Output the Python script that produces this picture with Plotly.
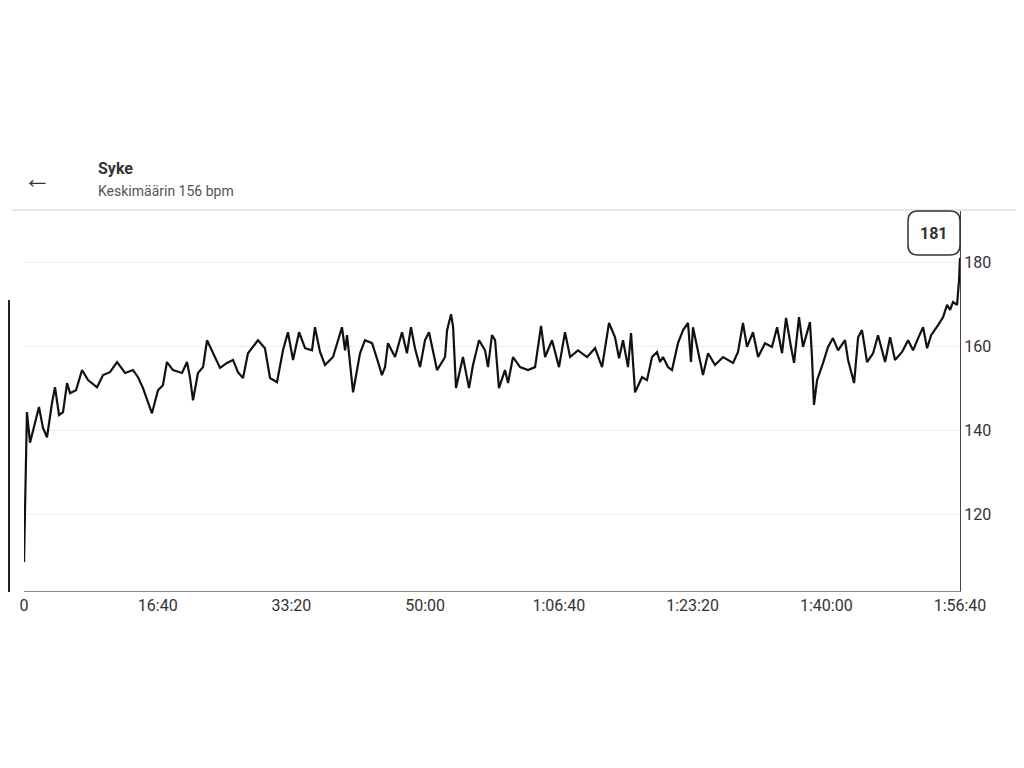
import plotly.graph_objects as go

# heart rate samples (seconds, bpm)
time_s = [0, 22, 45, 82, 112, 142, 172, 209, 232, 262, 292, 322, 344, 389, 434, 479, 546, 591, 643, 696,
          756, 815, 853, 890, 957, 1002, 1039, 1069, 1114, 1182, 1219, 1241, 1264, 1301, 1339, 1369, 1414,
          1466, 1518, 1563, 1600, 1638, 1675, 1750, 1802, 1840, 1892, 1937, 1974, 2012, 2057, 2102, 2154,
          2176, 2214, 2251, 2311, 2378, 2401, 2416, 2461, 2513, 2550, 2603, 2648, 2677, 2700, 2722, 2775,
          2827, 2864, 2894, 2924, 2962, 2999, 3029, 3089, 3149, 3164, 3194, 3209, 3231, 3283, 3328, 3358,
          3403, 3448, 3470, 3500, 3523, 3552, 3597, 3620, 3657, 3710, 3769, 3822, 3867, 3897, 3949, 4001,
          4046, 4084, 4143, 4211, 4271, 4323, 4375, 4420, 4450, 4480, 4517, 4540, 4570, 4622, 4659, 4697,
          4734, 4757, 4779, 4816, 4846, 4891, 4929, 4966, 4988, 5003, 5041, 5078, 5116, 5168, 5228, 5303,
          5340, 5377, 5407, 5452, 5490, 5542, 5594, 5632, 5669, 5699, 5736, 5759, 5796, 5826, 5878, 5893,
          5908, 5931, 5976, 6013, 6050, 6088, 6140, 6163, 6208, 6238, 6267, 6305, 6350, 6387, 6440, 6477,
          6514, 6567, 6612, 6649, 6687, 6724, 6754, 6784, 6836, 6874, 6903, 6926, 6948, 6978, 6993, 7000]
heart_rate = [108.6, 144.3, 137, 141.7, 145.5, 140.5, 138.3, 146.4, 150.2, 143.6, 144.3, 151.2, 148.8, 149.5,
              154.3, 151.9, 150.2, 153.1, 153.8, 156.2, 153.6, 154.3, 152.6, 150, 144, 149.5, 150.7, 156.2,
              154.3, 153.6, 156.2, 152.6, 147.1, 153.6, 155, 161.4, 158.3, 154.8, 156, 156.7, 153.8, 152.4,
              158.3, 161.4, 159.5, 152.4, 151.4, 159, 163.3, 156.7, 163.3, 159.5, 159, 164.5, 158.6, 155.5,
              157.4, 164.5, 159, 162.6, 149, 158.3, 161.4, 160.7, 156.2, 153.1, 155, 160.7, 157.4, 163.3,
              158.3, 164.5, 159.5, 155, 161.4, 163.3, 154.3, 157.4, 163.8, 167.6, 164.5, 150, 157.4, 150,
              155.5, 161.4, 159, 155, 162.6, 161.4, 150, 154.3, 151.2, 157.4, 155, 154.3, 155, 164.8, 157.4,
              161.4, 155, 163.3, 157.4, 159, 157.4, 159.5, 155, 165.5, 162.1, 157.1, 161.4, 155, 163.1, 149,
              152.6, 151.9, 157.4, 158.6, 156.2, 157.4, 155, 154.3, 160.7, 163.8, 165.5, 156.2, 164.5, 158.3,
              153.1, 158.3, 155.5, 157.4, 156, 158.6, 165.5, 159.8, 163.3, 157.4, 160.7, 159.8, 164.5, 158.3,
              166.7, 159.8, 156, 166.9, 159.8, 165.7, 157.4, 146, 151.9, 156, 159.8, 161.9, 159, 161.4, 156.7,
              151.2, 162.1, 163.8, 156.2, 158.3, 162.6, 156.2, 162.1, 156.7, 158.6, 161.4, 159, 161.9, 164.5,
              159.5, 162.6, 165, 166.9, 169.8, 168.6, 170.5, 169.8, 175.7, 181]

x_tickvals = [0, 1000, 2000, 3000, 4000, 5000, 6000, 7000]
x_ticktext = ["0", "16:40", "33:20", "50:00", "1:06:40", "1:23:20", "1:40:00", "1:56:40"]
y_tickvals = [120, 140, 160, 180]

fig = go.Figure()
fig.add_trace(go.Scatter(x=time_s, y=heart_rate, mode="lines",
                         line=dict(color="#111111", width=2.2), hoverinfo="skip"))

# page has an 8px body margin, so margins are shifted by 8
fig.update_layout(
    width=1024, height=768,
    paper_bgcolor="white", plot_bgcolor="white",
    margin=dict(l=16, r=72, t=202, b=185),
    showlegend=False,
    font=dict(family="Roboto", color="#333333"),
    xaxis=dict(range=[0, 7000], tickvals=x_tickvals, ticktext=x_ticktext,
               showgrid=False, zeroline=False, showline=True, linecolor="#888888",
               tickfont=dict(size=16), ticks=""),
    yaxis=dict(range=[101.7, 192.4], tickvals=y_tickvals, side="right",
               showgrid=True, gridcolor="#eeeeee", zeroline=False,
               showline=True, linecolor="#444444", tickfont=dict(size=16), ticks=""),
)


# screen pixel -> paper coords
def px(x):
    return (x - 24) / 936


def py(y):
    return (591 - y) / 381


# header
fig.add_shape(type="line", xref="paper", yref="paper",
              x0=px(12), x1=px(1030), y0=1, y1=1, line=dict(color="#e6e6e6", width=2))
fig.add_annotation(x=px(37), y=py(178), xref="paper", yref="paper", text="←", showarrow=False,
                   xanchor="center", yanchor="middle", font=dict(size=28, color="#333333"))
fig.add_annotation(x=px(96), y=py(168), xref="paper", yref="paper", text="<b>Syke</b>",
                   showarrow=False, xanchor="left", yanchor="middle", font=dict(size=16, color="#333333"))
fig.add_annotation(x=px(96), y=py(191), xref="paper", yref="paper", text="Keskimäärin 156 bpm",
                   showarrow=False, xanchor="left", yanchor="middle", font=dict(size=14, color="#555555"))

# max value bubble with rounded corners
x0, x1, y0, y1, r = 908, 960, 211, 255, 10
path = (f"M {px(x0 + r)} {py(y0)} L {px(x1 - r)} {py(y0)} Q {px(x1)} {py(y0)} {px(x1)} {py(y0 + r)} "
        f"L {px(x1)} {py(y1 - r)} Q {px(x1)} {py(y1)} {px(x1 - r)} {py(y1)} "
        f"L {px(x0 + r)} {py(y1)} Q {px(x0)} {py(y1)} {px(x0)} {py(y1 - r)} "
        f"L {px(x0)} {py(y0 + r)} Q {px(x0)} {py(y0)} {px(x0 + r)} {py(y0)} Z")
fig.add_shape(type="path", xref="paper", yref="paper", path=path,
              line=dict(color="#333333", width=1.5), fillcolor="white")
fig.add_annotation(x=px(934), y=py(233), xref="paper", yref="paper", text=f"<b>{max(heart_rate):.0f}</b>",
                   showarrow=False, xanchor="center", yanchor="middle", font=dict(size=16, color="#333333"))

# left edge artefact line
fig.add_shape(type="line", xref="paper", yref="paper", x0=px(9), x1=px(9), y0=py(300), y1=py(592),
              line=dict(color="#222222", width=2))

fig.write_html("out.html")
